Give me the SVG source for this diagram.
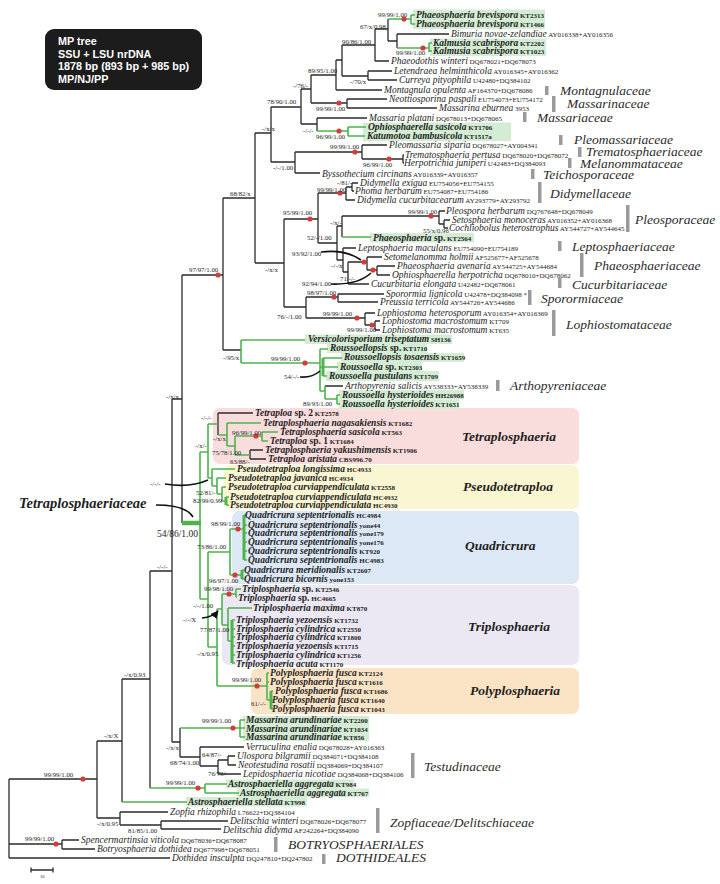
<svg xmlns="http://www.w3.org/2000/svg" width="720" height="884" viewBox="0 0 720 884">
<defs>
<style>
text{font-family:"Liberation Serif","Times New Roman",serif;fill:#1e1e1e}
.t{font-style:italic;font-size:9.5px}
.tb{font-style:italic;font-weight:bold;font-size:9.5px}
.a{font-style:normal;font-weight:normal;font-size:7px}
.ab{font-style:normal;font-weight:bold;font-size:7px}
.u{font-style:normal}
.n{font-size:6.8px}
.f{font-style:italic;font-size:13.5px;fill:#2a2a2a}
.g{font-style:italic;font-weight:bold;font-size:13.5px}
.br{fill:none;stroke:#2b2b2b;stroke-width:1.3}
.gr{fill:none;stroke:#4db34d;stroke-width:1.6}
.gt{fill:none;stroke:#4db34d;stroke-width:3}
.hl{fill:#d3ecd3}
.bar{fill:#9a9a9a}
.dot{fill:#d43c3c}
.arr{fill:none;stroke:#111;stroke-width:1.6}
.tt{font-family:"Liberation Sans",Arial,sans-serif;font-weight:bold;font-size:10.8px;fill:#fff}
</style>
<marker id="ah" viewBox="0 0 10 10" refX="9" refY="5" markerWidth="5" markerHeight="5" orient="auto"><path d="M0 0L10 5L0 10z" fill="#111"/></marker>
</defs>
<rect width="720" height="884" fill="#fff"/>

<g id="title">
<rect x="45" y="29" width="157" height="61" rx="9" fill="#1c1c1c"/>
<text class="tt" x="58" y="45">MP tree</text>
<text class="tt" x="58" y="58">SSU + LSU nrDNA</text>
<text class="tt" x="58" y="70">1878 bp (893 bp + 985 bp)</text>
<text class="tt" x="58" y="83">MP/NJ/PP</text>
</g>

<g id="group-boxes">
<rect x="213" y="408" width="366" height="56" rx="7" fill="#f9dcdc"/>
<rect x="224" y="465" width="355" height="44" rx="7" fill="#fbf6d2"/>
<rect x="232" y="511" width="347" height="73" rx="7" fill="#dce8f6"/>
<rect x="222" y="585" width="357" height="80" rx="7" fill="#ebe7f3"/>
<rect x="251" y="668" width="328" height="46" rx="7" fill="#fbe4c6"/>
</g>

<g id="highlights">
<rect class="hl" x="413" y="9.5" width="132" height="19.5"/>
<rect class="hl" x="430" y="38.5" width="116" height="17.5"/>
<rect class="hl" x="363" y="122.5" width="148" height="18.5"/>
<rect class="hl" x="370" y="233" width="104" height="9.5"/>
<rect class="hl" x="305" y="334.5" width="147" height="9.5"/>
<rect class="hl" x="327" y="344" width="100" height="9"/>
<rect class="hl" x="341" y="353" width="123" height="9"/>
<rect class="hl" x="337" y="362" width="85" height="9"/>
<rect class="hl" x="326" y="371" width="113" height="10"/>
<rect class="hl" x="339" y="390" width="125" height="9.5"/>
<rect class="hl" x="339" y="399.5" width="120" height="9.5"/>
<rect class="hl" x="243" y="716" width="126" height="25"/>
<rect class="hl" x="226" y="779.5" width="128" height="9"/>
<rect class="hl" x="237" y="788.5" width="132" height="8.5"/>
<rect class="hl" x="186" y="797" width="121" height="9.5"/>
</g>

<g id="connectors">
<path class="br" d="M388 19V41M388 41H397M397 34V48M397 34H449M375 29V61M375 29H388M375 61H389M342 45V76M342 45H375M342 76H368M368 71V80M368 71H392M368 80H397M336 60V90M336 60H342M336 90H382M311 75V103M311 75H336M311 103H347M347 99V108M347 99H387M347 108H437M301 89V124M301 89H311M301 124H317M317 118V131M317 118H367M271 107V162M271 107H301M271 162H295M295 152V173M295 152H362M295 173H320M362 145V159M362 145H387M362 159H403M403 155V163M403 155H404M403 163H404M255 133V263M255 133H271M255 263H284M284 219V307M284 219H318M284 307H306M318 193V243M318 193H346M318 243H337M346 187V200M346 187H352M346 200H355M352 183V191M352 183H358M352 191H354M337 226V260M337 226H342M337 260H343M342 216V237M342 216H439M439 211V224M439 211H445M439 224H444M444 220V228M444 220H450M444 228H448M343 248V272M343 248H356M343 272H348M348 262V284M348 262H367M348 284H369M367 257V270M367 257H382M367 270H377M377 266V275M377 266H395M377 275H390M306 297V318M306 297H338M306 318H365M338 294V302M338 294H384M338 302H378M365 313V325M365 313H375M365 325H375M375 321V330M375 321H380M375 330H380M223 198V350M223 198H255M223 350H241M182 275V523M182 275H223M172 399V742M172 399H182M172 742H180M180 728V757M180 757H200M200 747V766M200 747H244M200 766H218M218 760V774M218 760H228M218 774H241M228 756V765M228 756H235M228 765H236M150 571V788M150 571H172M122 679V802M122 679H150M97 741V818M97 741H122M97 818H120M120 812V825M120 812H168M120 825H161M161 821V829M161 821H228M161 829H221M9 779V858M9 779H97M9 844H62M9 858H170M62 840V849M62 840H79M62 849H95M325 386H343M218 413V435M218 413H253M250 450V459M250 450H263M250 459H266"/>
<path class="gr" d="M388 19H411M411 15V24M411 15H415M411 24H415M397 48H429M429 43V52M429 43H432M429 51H432M317 131H348M348 127V136M348 127H366M348 136H365M342 237H371M241 340V363M241 340H305M241 363H320M320 349V391M320 349H328M320 367H323M320 391H325M323 358H342M323 367H338M323 376H327M325 386V399M325 399H337M337 395V404M337 395H340M337 404H340M200 452V599M200 452H208M200 599H208M208 424V478M208 424H218M208 478H212M218 435H227M227 423V446M227 423H261M227 446H235M235 436V455M235 436H262M235 455H250M262 432V441M262 432H278M262 441H268M212 469V486M212 469H235M212 486H217M217 478V494M217 478H226M217 494H222M222 487V501M222 487H226M222 501H226M226 497H229M226 505H229M208 552V647M208 552H230M208 647H217M230 529V575M230 529H244M230 575H242M244 515H246M244 525H247M244 533H247M244 542H247M244 551H247M244 560H247M242 570H244M242 579H244M217 609V686M217 609H222M217 686H267M222 594V625M222 594H236M222 625H228M236 589V597M236 589H241M236 597H237M228 608H252M228 608V641M228 641H232M232 620H235M232 629H235M232 637H235M232 646H235M232 655H235M232 663H235M267 673V700M267 673H269M267 682H269M267 700H271M271 691H273M271 700H273M271 709H273M180 728H240M240 720V737M240 720H245M240 728H245M240 737H245M150 788H205M205 784V793M205 784H227M205 793H239M122 802H187"/>
<path class="gt" d="M323 358V376M226 497V505M244 515V560M242 570V579M232 620V663M271 691V709"/>
<path fill="none" stroke="#4db34d" stroke-width="4.5" d="M182 523H201"/>
<path class="arr" marker-end="url(#ah)" d="M321 252Q345 249 361 260M331 284Q358 285 371 273M300 377Q312 378 320 371M165 484Q190 488 208 480M156 505Q186 505 193 517M202 618Q213 617 218 611"/>
<g id="support-dots">
<circle class="dot" cx="404" cy="19" r="2.6"/><circle class="dot" cx="423" cy="48" r="2.6"/><circle class="dot" cx="339" cy="103" r="2.6"/><circle class="dot" cx="339" cy="131" r="2.6"/><circle class="dot" cx="355" cy="152" r="2.6"/><circle class="dot" cx="389" cy="159" r="2.6"/><circle class="dot" cx="340" cy="193" r="2.6"/><circle class="dot" cx="310" cy="219" r="2.6"/><circle class="dot" cx="431" cy="216" r="2.6"/><circle class="dot" cx="364" cy="262" r="2.6"/><circle class="dot" cx="373" cy="270" r="2.6"/><circle class="dot" cx="334" cy="297" r="2.6"/><circle class="dot" cx="357" cy="318" r="2.6"/><circle class="dot" cx="372" cy="325" r="2.6"/><circle class="dot" cx="218" cy="275" r="2.6"/><circle class="dot" cx="305" cy="363" r="2.6"/><circle class="dot" cx="256" cy="436" r="2.6"/><circle class="dot" cx="238" cy="529" r="2.6"/><circle class="dot" cx="235" cy="575" r="2.6"/><circle class="dot" cx="229" cy="594" r="2.6"/><circle class="dot" cx="257" cy="686" r="2.6"/><circle class="dot" cx="233" cy="728" r="2.6"/><circle class="dot" cx="198" cy="788" r="2.6"/><circle class="dot" cx="83" cy="779" r="2.6"/><circle class="dot" cx="56" cy="844" r="2.6"/>
</g>
</g>

<g id="support-labels">
<text class="n" x="378" y="16.5">99/99/1.00</text>
<text class="n" x="360" y="28.5">67/x/0.98</text>
<text class="n" x="396" y="55">99/99/1.00</text>
<text class="n" x="342" y="43.5">90/86/1.00</text>
<text class="n" x="308" y="72.5">89/95/1.00</text>
<text class="n" x="350" y="84">-/70/x</text>
<text class="n" x="293" y="87.5">-/76/-</text>
<text class="n" x="267" y="103.5">78/90/1.00</text>
<text class="n" x="316" y="111">99/99/1.00</text>
<text class="n" x="262" y="130.5">-/x/x</text>
<text class="n" x="303" y="132.5">-/-/-</text>
<text class="n" x="316" y="139">96/99/1.00</text>
<text class="n" x="330" y="148.5">99/99/1.00</text>
<text class="n" x="363" y="166.5">96/99/1.00</text>
<text class="n" x="273" y="169.5">-/-/1.00</text>
<text class="n" x="230" y="195.5">68/82/x</text>
<text class="n" x="337" y="184.5">-/81/-</text>
<text class="n" x="317" y="191.5">99/99/1.00</text>
<text class="n" x="283" y="214.5">95/99/1.00</text>
<text class="n" x="408" y="213.5">99/99/1.00</text>
<text class="n" x="330" y="224.5">-/x/-</text>
<text class="n" x="423" y="233">55/x/0.96</text>
<text class="n" x="307" y="239.5">52/-/1.00</text>
<text class="n" x="292" y="255.5">93/92/1.00</text>
<text class="n" x="331" y="268">-/-/x</text>
<text class="n" x="265" y="271.5">-/x/x</text>
<text class="n" x="189" y="271.5">97/97/1.00</text>
<text class="n" x="340" y="281">71/-/-</text>
<text class="n" x="302" y="285.5">92/94/1.00</text>
<text class="n" x="307" y="294.5">98/97/1.00</text>
<text class="n" x="323" y="315.5">99/99/1.00</text>
<text class="n" x="277" y="318.5">76/-/1.00</text>
<text class="n" x="347" y="332">99/99/1.00</text>
<text class="n" x="223" y="359.5">-/95/x</text>
<text class="n" x="271" y="360.5">99/99/1.00</text>
<text class="n" x="284" y="378.5">54/-/-</text>
<text class="n" x="303" y="406">89/93/1.00</text>
<text class="n" x="166" y="398.5">-/x/x</text>
<text class="n" x="201" y="419.5">-/-/-</text>
<text class="n" x="213" y="440.5">-/x/x</text>
<text class="n" x="232" y="434.5">96/99/1.00</text>
<text class="n" x="195" y="447.5">-/x/-</text>
<text class="n" x="212" y="454.5">75/78/1.00</text>
<text class="n" x="230" y="464">63/88/-</text>
<text class="n" x="150" y="486">-/-/-</text>
<text class="n" x="196" y="494.5">52/81/-</text>
<text class="n" x="193" y="502.5">82/99/0.99</text>
<text x="157" y="537" style="font-size:9.5px">54/86/1.00</text>
<text class="n" x="211" y="525.5">98/99/1.00</text>
<text class="n" x="197" y="548.5">73/86/1.00</text>
<text class="n" x="209" y="582.5">96/97/1.00</text>
<text class="n" x="157" y="568.5">-/-/-</text>
<text class="n" x="204" y="590.5">99/98/1.00</text>
<text class="n" x="193" y="607.5">-/-/1.00</text>
<text class="n" x="183" y="621.5">-/-/X</text>
<text class="n" x="200" y="631.5">77/87/1.00</text>
<text class="n" x="197" y="655.5">-/x/0.95</text>
<text class="n" x="124" y="676.5">-/x/0.93</text>
<text class="n" x="232" y="681.5">99/99/1.00</text>
<text class="n" x="251" y="705.5">61/-/-</text>
<text class="n" x="202" y="722.5">99/99/1.00</text>
<text class="n" x="104" y="737.5">-/x/X</text>
<text class="n" x="166" y="750">-/x/x</text>
<text class="n" x="202" y="757">64/87/-</text>
<text class="n" x="170" y="764.5">68/74/1.00</text>
<text class="n" x="208" y="775.5">76/79/-</text>
<text class="n" x="44" y="776.5">99/99/1.00</text>
<text class="n" x="166" y="784.5">99/99/1.00</text>
<text class="n" x="97" y="825.5">-/x/0.95</text>
<text class="n" x="128" y="832.5">81/85/1.00</text>
<text class="n" x="25" y="840.5">99/99/1.00</text>
</g>

<g id="taxa">
<g id="tx01"><text class="tb" x="416" y="18">Phaeosphaeria brevispora<tspan class="ab"> KT2313</tspan></text></g>
<g id="tx02"><text class="tb" x="416" y="27">Phaeosphaeria brevispora<tspan class="ab"> KT1466</tspan></text></g>
<g id="tx03"><text class="t" x="451" y="37">Bimuria novae-zelandiae<tspan class="a"> AY016338+AY016356</tspan></text></g>
<g id="tx04"><text class="tb" x="433" y="46">Kalmusia scabrispora<tspan class="ab"> KT2202</tspan></text></g>
<g id="tx05"><text class="tb" x="433" y="54">Kalmusia scabrispora<tspan class="ab"> KT1023</tspan></text></g>
<g id="tx06"><text class="t" x="391" y="64">Phaeodothis winteri<tspan class="a"> DQ678021+DQ678073</tspan></text></g>
<g id="tx07"><text class="t" x="394" y="74">Letendraea helminthicola<tspan class="a"> AY016345+AY016362</tspan></text></g>
<g id="tx08"><text class="t" x="399" y="83">Curreya pityophila<tspan class="a"> U42480+DQ384102</tspan></text></g>
<g id="tx09"><text class="t" x="384" y="93">Montagnula opulenta<tspan class="a"> AF164370+DQ678086</tspan></text></g>
<g id="tx10"><text class="t" x="389" y="102">Neottiosporina paspali<tspan class="a"> EU754073+EU754172</tspan></text></g>
<g id="tx11"><text class="t" x="439" y="111">Massarina eburnea<tspan class="a"> 3953</tspan></text></g>
<g id="tx12"><text class="t" x="369" y="121">Massaria platani<tspan class="a"> DQ678013+DQ678065</tspan></text></g>
<g id="tx13"><text class="tb" x="368" y="130">Ophiosphaerella sasicola<tspan class="ab"> KT1706</tspan></text></g>
<g id="tx14"><text class="tb" x="367" y="139">Katumotoa bambusicola<tspan class="ab"> KT1517a</tspan></text></g>
<g id="tx15"><text class="t" x="389" y="148">Pleomassaria siparia<tspan class="a"> DQ678027+AY004341</tspan></text></g>
<g id="tx16"><text class="t" x="405" y="158">Trematosphaeria pertusa<tspan class="a"> DQ678020+DQ678072</tspan></text></g>
<g id="tx17"><text class="t" x="404" y="166">Herpotrichia juniperi<tspan class="a"> U42483+DQ384093</tspan></text></g>
<g id="tx18"><text class="t" x="322" y="177">Byssothecium circinans<tspan class="a"> AY016339+AY016357</tspan></text></g>
<g id="tx19"><text class="t" x="360" y="186">Didymella exigua<tspan class="a"> EU754056+EU754155</tspan></text></g>
<g id="tx20"><text class="t" x="355" y="194">Phoma herbarum<tspan class="a"> EU754087+EU754186</tspan></text></g>
<g id="tx21"><text class="t" x="357" y="203">Didymella cucurbitacearum<tspan class="a"> AY293779+AY293792</tspan></text></g>
<g id="tx22"><text class="t" x="446" y="214">Pleospora herbarum<tspan class="a"> DQ767648+DQ678049</tspan></text></g>
<g id="tx23"><text class="t" x="452" y="223">Setosphaeria monoceras<tspan class="a"> AY016352+AY016368</tspan></text></g>
<g id="tx24"><text class="t" x="449" y="231">Cochliobolus heterostrophus<tspan class="a"> AY544727+AY544645</tspan></text></g>
<g id="tx25"><text class="tb" x="373" y="241">Phaeosphaeria <tspan class="u">sp.</tspan><tspan class="ab"> KT2564</tspan></text></g>
<g id="tx26"><text class="t" x="358" y="251">Leptosphaeria maculans<tspan class="a"> EU754090+EU754189</tspan></text></g>
<g id="tx27"><text class="t" x="384" y="260">Setomelanomma holmii<tspan class="a"> AF525677+AF525678</tspan></text></g>
<g id="tx28"><text class="t" x="397" y="269">Phaeosphaeria avenaria<tspan class="a"> AY544725+AY544684</tspan></text></g>
<g id="tx29"><text class="t" x="392" y="278">Ophiosphaerella herpotricha<tspan class="a"> DQ678010+DQ678062</tspan></text></g>
<g id="tx30"><text class="t" x="371" y="287">Cucurbitaria elongata<tspan class="a"> U42482+DQ678061</tspan></text></g>
<g id="tx31"><text class="t" x="386" y="297">Sporormia lignicola<tspan class="a"> U42478+DQ384098 *</tspan></text></g>
<g id="tx32"><text class="t" x="380" y="305">Preussia terricola<tspan class="a"> AY544726+AY544686</tspan></text></g>
<g id="tx33"><text class="t" x="377" y="316">Lophiostoma heterosporum<tspan class="a"> AY016354+AY016369</tspan></text></g>
<g id="tx34"><text class="t" x="382" y="324">Lophiostoma macrostomum<tspan class="a"> KT709</tspan></text></g>
<g id="tx35"><text class="t" x="382" y="333">Lophiostoma macrostomum<tspan class="a"> KT635</tspan></text></g>
<g id="tx36"><text class="tb" x="308" y="342">Versicolorisporium triseptatum<tspan class="ab"> SH136</tspan></text></g>
<g id="tx37"><text class="tb" x="330" y="351">Roussoellopsis <tspan class="u">sp.</tspan><tspan class="ab"> KT1710</tspan></text></g>
<g id="tx38"><text class="tb" x="344" y="360">Roussoellopsis tosaensis<tspan class="ab"> KT1659</tspan></text></g>
<g id="tx39"><text class="tb" x="340" y="370">Roussoella <tspan class="u">sp.</tspan><tspan class="ab"> KT2303</tspan></text></g>
<g id="tx40"><text class="tb" x="329" y="379">Roussoella pustulans<tspan class="ab"> KT1709</tspan></text></g>
<g id="tx41"><text class="t" x="345" y="389">Arthopyrenia salicis<tspan class="a"> AY538333+AY538339</tspan></text></g>
<g id="tx42"><text class="tb" x="342" y="398">Roussoella hysterioides<tspan class="ab"> HH26988</tspan></text></g>
<g id="tx43"><text class="tb" x="342" y="407">Roussoella hysterioides<tspan class="ab"> KT1651</tspan></text></g>
<g id="tx44"><text class="tb" x="255" y="416">Tetraploa <tspan class="u">sp. 2</tspan><tspan class="ab"> KT2578</tspan></text></g>
<g id="tx45"><text class="tb" x="263" y="426">Tetraplosphaeria nagasakiensis<tspan class="ab"> KT1682</tspan></text></g>
<g id="tx46"><text class="tb" x="280" y="435">Tetraplosphaeria sasicola<tspan class="ab"> KT563</tspan></text></g>
<g id="tx47"><text class="tb" x="270" y="444">Tetraploa <tspan class="u">sp. 1</tspan><tspan class="ab"> KT1684</tspan></text></g>
<g id="tx48"><text class="tb" x="265" y="453">Tetraplosphaeria yakushimensis<tspan class="ab"> KT1906</tspan></text></g>
<g id="tx49"><text class="tb" x="268" y="462">Tetraploa aristata<tspan class="ab"> CBS996.70</tspan></text></g>
<g id="tx50"><text class="tb" x="237" y="472">Pseudotetraploa longissima<tspan class="ab"> HC4933</tspan></text></g>
<g id="tx51"><text class="tb" x="228" y="481">Pseudotetraploa javanica<tspan class="ab"> HC4934</tspan></text></g>
<g id="tx52"><text class="tb" x="228" y="490">Pseudotetraploa curviappendiculata<tspan class="ab"> KT2558</tspan></text></g>
<g id="tx53"><text class="tb" x="230" y="499.5">Pseudotetraploa curviappendiculata<tspan class="ab"> HC4932</tspan></text></g>
<g id="tx54"><text class="tb" x="230" y="508">Pseudotetraploa curviappendiculata<tspan class="ab"> HC4930</tspan></text></g>
<g id="tx55"><text class="tb" x="245" y="518">Quadricrura septentrionalis<tspan class="ab"> HC4984</tspan></text></g>
<g id="tx56"><text class="tb" x="248" y="527.5">Quadricrura septentrionalis<tspan class="ab"> yone44</tspan></text></g>
<g id="tx57"><text class="tb" x="248" y="536.2">Quadricrura septentrionalis<tspan class="ab"> yone179</tspan></text></g>
<g id="tx58"><text class="tb" x="248" y="545">Quadricrura septentrionalis<tspan class="ab"> yone176</tspan></text></g>
<g id="tx59"><text class="tb" x="248" y="554">Quadricrura septentrionalis<tspan class="ab"> KT920</tspan></text></g>
<g id="tx60"><text class="tb" x="248" y="563">Quadricrura septentrionalis<tspan class="ab"> HC4983</tspan></text></g>
<g id="tx61"><text class="tb" x="244" y="573">Quadricrura meridionalis<tspan class="ab"> KT2607</tspan></text></g>
<g id="tx62"><text class="tb" x="244" y="582">Quadricrura bicornis<tspan class="ab"> yone153</tspan></text></g>
<g id="tx63"><text class="tb" x="242" y="592">Triplosphaeria <tspan class="u">sp.</tspan><tspan class="ab"> KT2546</tspan></text></g>
<g id="tx64"><text class="tb" x="238" y="600.5">Triplosphaeria <tspan class="u">sp.</tspan><tspan class="ab"> HC4665</tspan></text></g>
<g id="tx65"><text class="tb" x="253" y="611">Triplosphaeria maxima<tspan class="ab"> KT870</tspan></text></g>
<g id="tx66"><text class="tb" x="236" y="623">Triplosphaeria yezoensis<tspan class="ab"> KT1732</tspan></text></g>
<g id="tx67"><text class="tb" x="236" y="631.7">Triplosphaeria cylindrica<tspan class="ab"> KT2550</tspan></text></g>
<g id="tx68"><text class="tb" x="236" y="640.4">Triplosphaeria cylindrica<tspan class="ab"> KT1800</tspan></text></g>
<g id="tx69"><text class="tb" x="236" y="649.1">Triplosphaeria yezoensis<tspan class="ab"> KT1715</tspan></text></g>
<g id="tx70"><text class="tb" x="236" y="657.8">Triplosphaeria cylindrica<tspan class="ab"> KT1256</tspan></text></g>
<g id="tx71"><text class="tb" x="236" y="666.5">Triplosphaeria acuta<tspan class="ab"> KT1170</tspan></text></g>
<g id="tx72"><text class="tb" x="270" y="676">Polyplosphaeria fusca<tspan class="ab"> KT2124</tspan></text></g>
<g id="tx73"><text class="tb" x="270" y="685">Polyplosphaeria fusca<tspan class="ab"> KT1616</tspan></text></g>
<g id="tx74"><text class="tb" x="275" y="694">Polyplosphaeria fusca<tspan class="ab"> KT1686</tspan></text></g>
<g id="tx75"><text class="tb" x="272" y="703">Polyplosphaeria fusca<tspan class="ab"> KT1640</tspan></text></g>
<g id="tx76"><text class="tb" x="272" y="712">Polyplosphaeria fusca<tspan class="ab"> KT1043</tspan></text></g>
<g id="tx77"><text class="tb" x="246" y="723">Massarina arundinariae<tspan class="ab"> KT2200</tspan></text></g>
<g id="tx78"><text class="tb" x="246" y="731.5">Massarina arundinariae<tspan class="ab"> KT1034</tspan></text></g>
<g id="tx79"><text class="tb" x="246" y="740">Massarina arundinariae<tspan class="ab"> KT856</tspan></text></g>
<g id="tx80"><text class="t" x="246" y="750">Verruculina enalia<tspan class="a"> DQ678028+AY016363</tspan></text></g>
<g id="tx81"><text class="t" x="237" y="759">Ulospora bilgramii<tspan class="a"> DQ384071+DQ384108</tspan></text></g>
<g id="tx82"><text class="t" x="238" y="768">Neotestudina rosatii<tspan class="a"> DQ384069+DQ384107</tspan></text></g>
<g id="tx83"><text class="t" x="243" y="777">Lepidosphaeria nicotiae<tspan class="a"> DQ384068+DQ384106</tspan></text></g>
<g id="tx84"><text class="tb" x="228" y="787">Astrosphaeriella aggregata<tspan class="ab"> KT984</tspan></text></g>
<g id="tx85"><text class="tb" x="240" y="796">Astrosphaeriella aggregata<tspan class="ab"> KT767</tspan></text></g>
<g id="tx86"><text class="tb" x="188" y="805">Astrosphaeriella stellata<tspan class="ab"> KT998</tspan></text></g>
<g id="tx87"><text class="t" x="170" y="815">Zopfia rhizophila<tspan class="a"> L76622+DQ384104</tspan></text></g>
<g id="tx88"><text class="t" x="230" y="824">Delitschia winteri<tspan class="a"> DQ678026+DQ678077</tspan></text></g>
<g id="tx89"><text class="t" x="223" y="832.5">Delitschia didyma<tspan class="a"> AF242264+DQ384090</tspan></text></g>
<g id="tx90"><text class="t" x="81" y="843">Spencermartinsia viticola<tspan class="a"> DQ678036+DQ678087</tspan></text></g>
<g id="tx91"><text class="t" x="97" y="852">Botryosphaeria dothidea<tspan class="a"> DQ677998+DQ678051</tspan></text></g>
<g id="tx92"><text class="t" x="172" y="861">Dothidea insculpta<tspan class="a"> DQ247810+DQ247802</tspan></text></g>
</g>

<g id="families">
<rect class="bar" x="545" y="86" width="3.5" height="9"/><text class="f" x="560" y="94.5">Montagnulaceae</text>
<rect class="bar" x="552" y="96" width="3.5" height="16"/><text class="f" x="567" y="107.5">Massarinaceae</text>
<rect class="bar" x="523" y="112" width="3.5" height="10"/><text class="f" x="537" y="121.5">Massariaceae</text>
<rect class="bar" x="559" y="135" width="3.5" height="10"/><text class="f" x="574" y="143.5">Pleomassariaceae</text>
<rect class="bar" x="578" y="147" width="3.5" height="10"/><text class="f" x="586" y="156">Trematosphaeriaceae</text>
<rect class="bar" x="568" y="158" width="3.5" height="10"/><text class="f" x="580" y="167.5">Melanommataceae</text>
<rect class="bar" x="531" y="169" width="3.5" height="10"/><text class="f" x="543" y="178.5">Teichosporaceae</text>
<rect class="bar" x="538" y="182" width="3.5" height="21"/><text class="f" x="550" y="197.5">Didymellaceae</text>
<rect class="bar" x="626" y="205" width="3.5" height="27"/><text class="f" x="635" y="224">Pleosporaceae</text>
<rect class="bar" x="558" y="241" width="3.5" height="10"/><text class="f" x="572" y="250.5">Leptosphaeriaceae</text>
<rect class="bar" x="580" y="253" width="3.5" height="24"/><text class="f" x="594" y="269.5">Phaeosphaeriaceae</text>
<rect class="bar" x="558" y="278" width="3.5" height="10"/><text class="f" x="572" y="288.5">Cucurbitariaceae</text>
<rect class="bar" x="528" y="290" width="3.5" height="15"/><text class="f" x="541" y="302.5">Sporormiaceae</text>
<rect class="bar" x="552" y="310" width="3.5" height="26"/><text class="f" x="566" y="328.5">Lophiostomataceae</text>
<rect class="bar" x="496" y="380" width="3.5" height="11"/><text class="f" x="510" y="390">Arthopyreniaceae</text>
<rect class="bar" x="411" y="753" width="3.5" height="25"/><text class="f" x="424" y="770.5">Testudinaceae</text>
<rect class="bar" x="376" y="808" width="3.5" height="25"/><text class="f" x="390" y="826.5">Zopfiaceae/Delitschiaceae</text>
<rect class="bar" x="274" y="837" width="3.5" height="15"/><text class="f" x="288" y="849">BOTRYOSPHAERIALES</text>
<rect class="bar" x="322" y="854" width="3.5" height="10"/><text class="f" x="336" y="862">DOTHIDEALES</text>
</g>

<g id="genera">
<text class="g" x="462" y="441">Tetraplosphaeria</text>
<text class="g" x="463" y="491">Pseudotetraploa</text>
<text class="g" x="465" y="550">Quadricrura</text>
<text class="g" x="468" y="631">Triplosphaeria</text>
<text class="g" x="470" y="695">Polyplosphaeria</text>
<text x="19" y="508" style="font-style:italic;font-weight:bold;font-size:14.5px">Tetraplosphaeriaceae</text>
</g>

<g id="scale">
<path class="br" stroke-width="0.8" d="M31 870H53M31 867.5V872.5M53 867.5V872.5"/>
<text x="40" y="878" style="font-size:4.5px">10</text>
</g>
</svg>
